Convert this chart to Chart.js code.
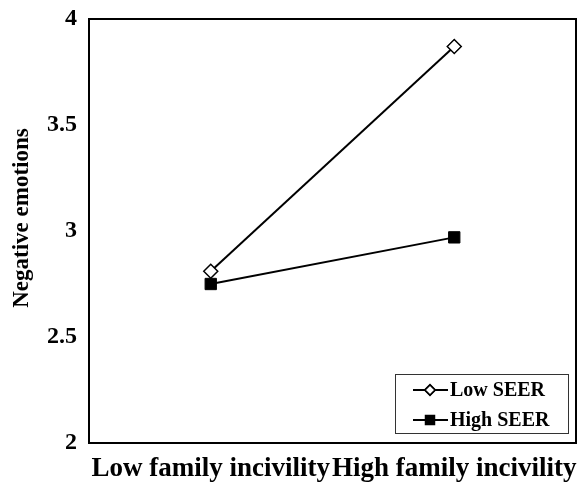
<!DOCTYPE html>
<html>
<head>
<meta charset="utf-8">
<script src="https://cdn.jsdelivr.net/npm/chart.js@4/dist/chart.umd.min.js"></script>
<style>
  html, body { margin: 0; padding: 0; background: #fff; }
  #wrap { width: 579px; height: 484px; }
</style>
</head>
<body>
<div id="wrap"><canvas id="chart" width="579" height="484"></canvas></div>
<script>
const categories = ['Low family incivility', 'High family incivility'];
const lowSeer = [2.81, 3.87];
const highSeer = [2.75, 2.97];
const yTicks = [2, 2.5, 3, 3.5, 4];
const yTitle = 'Negative emotions';

const FONT = '"Liberation Serif", "Times New Roman", serif';

// frame around the plot area + rotated y title
const frame = {
  id: 'frame',
  afterDatasetsDraw(chart) {
    const a = chart.chartArea;
    const ctx = chart.ctx;
    ctx.save();
    ctx.strokeStyle = '#000';
    ctx.lineWidth = 2;
    ctx.strokeRect(a.left, a.top, a.right - a.left, a.bottom - a.top);
    ctx.translate(22, (a.top + a.bottom) / 2 - 13);
    ctx.rotate(-Math.PI / 2);
    ctx.fillStyle = '#000';
    ctx.font = 'bold 23px ' + FONT;
    ctx.textAlign = 'center';
    ctx.textBaseline = 'middle';
    ctx.fillText(yTitle, 0, 0);
    ctx.restore();
  }
};

// boxed legend drawn in the lower right corner of the plot
const boxLegend = {
  id: 'boxLegend',
  afterDraw(chart) {
    const a = chart.chartArea;
    const ctx = chart.ctx;
    const w = 173, h = 59;
    const x0 = a.right - 8 - w, y0 = a.bottom - 10 - h;
    ctx.save();
    ctx.fillStyle = '#fff';
    ctx.fillRect(x0, y0, w, h);
    ctx.strokeStyle = '#333';
    ctx.lineWidth = 1;
    ctx.strokeRect(x0 + 0.5, y0 + 0.5, w, h);
    chart.data.datasets.forEach((ds, i) => {
      const cy = y0 + 16 + i * 30;
      ctx.strokeStyle = '#000';
      ctx.lineWidth = 2;
      ctx.beginPath();
      ctx.moveTo(x0 + 18, cy);
      ctx.lineTo(x0 + 53, cy);
      ctx.stroke();
      Chart.helpers.drawPoint(ctx, {
        pointStyle: ds.pointStyle,
        radius: ds.pointStyle === 'rect' ? 6 : 5,
        borderWidth: 1.5
      }, x0 + 35, cy);
      ctx.fillStyle = ds.pointBackgroundColor;
      ctx.strokeStyle = '#000';
      ctx.lineWidth = 1.5;
      ctx.fill();
      ctx.stroke();
      ctx.fillStyle = '#000';
      ctx.font = 'bold 20px ' + FONT;
      ctx.textBaseline = 'middle';
      ctx.fillText(ds.label, x0 + 55, cy + 1);
    });
    ctx.restore();
  }
};

new Chart(document.getElementById('chart'), {
  type: 'line',
  data: {
    labels: categories,
    datasets: [
      {
        label: 'Low SEER',
        data: lowSeer,
        borderColor: '#000',
        borderWidth: 2,
        pointStyle: 'rectRot',
        pointRadius: 7,
        pointBackgroundColor: '#fff',
        pointBorderColor: '#000',
        pointBorderWidth: 1.5
      },
      {
        label: 'High SEER',
        data: highSeer,
        borderColor: '#000',
        borderWidth: 2,
        pointStyle: 'rect',
        pointRadius: 8,
        pointBackgroundColor: '#000',
        pointBorderColor: '#000',
        pointBorderWidth: 1
      }
    ]
  },
  options: {
    responsive: false,
    animation: false,
    layout: { autoPadding: false, padding: { top: 19, right: 3, left: 0, bottom: 0 } },
    plugins: {
      legend: { display: false },
      tooltip: { enabled: false }
    },
    scales: {
      x: {
        offset: true,
        grid: { display: false, drawTicks: false },
        border: { display: false },
        ticks: {
          color: '#000',
          font: { family: FONT, size: 27, weight: 'bold' },
          padding: 10,
          maxRotation: 0,
          autoSkip: false
        },
        afterFit(scale) {
          scale.height = 41;
          scale.paddingLeft = 0;
          scale.paddingRight = 0;
        }
      },
      y: {
        min: 2,
        max: 4,
        afterBuildTicks(scale) { scale.ticks = yTicks.map(v => ({ value: v })); },
        grid: { display: false, drawTicks: false },
        border: { display: false },
        ticks: {
          color: '#000',
          font: { family: FONT, size: 24, weight: 'bold' },
          padding: 12,
          callback: v => String(v)
        },
        afterFit(scale) {
          scale.width = 89;
          scale.paddingTop = 0;
          scale.paddingBottom = 0;
        }
      }
    }
  },
  plugins: [frame, boxLegend]
});
</script>
</body>
</html>
